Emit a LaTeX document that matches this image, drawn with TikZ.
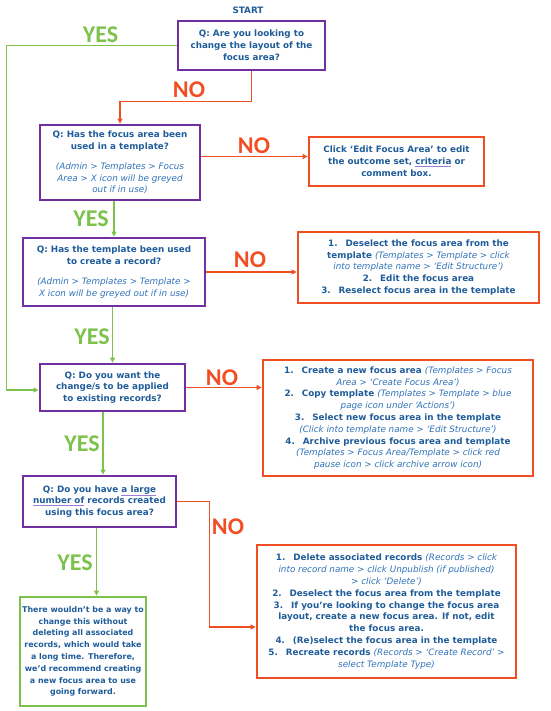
\documentclass[tikz,border=0pt]{standalone}
\usepackage{fontspec}
\setmainfont{DejaVu Sans}
\newfontfamily\labelfont{Carlito}
\usetikzlibrary{arrows.meta}
\definecolor{qblue}{HTML}{1F5C99}
\definecolor{iblue}{HTML}{2E72B8}
\definecolor{qpurple}{HTML}{7030A0}
\definecolor{nored}{HTML}{F04E23}
\definecolor{yesgreen}{HTML}{7CC24B}
\definecolor{spell}{HTML}{9B7FD4}
\newcommand{\hint}[1]{{\mdseries\itshape\color{iblue}#1}}
\newcommand{\spellmark}[1]{{\color{spell}$\underline{\hbox{\color{qblue}#1}}$}}
\newcommand{\nr}[1]{#1.\hspace{0.9em}}
\begin{document}
\begin{tikzpicture}[x=1pt,y=-1pt,
  boxtext/.style={align=center, inner sep=0pt, text=qblue,
    font=\bfseries\fontsize{8.8}{11.8}\selectfont},
  qbox/.style={boxtext, draw=qpurple, line width=2.8pt},
  abox/.style={boxtext, draw=nored, line width=2.8pt},
  ybox/.style={boxtext, draw=yesgreen, line width=2.8pt},
  yesline/.style={draw=yesgreen, line width=1.3pt, -{Triangle[length=5pt,width=5pt]}},
  noline/.style={draw=nored, line width=1.3pt, -{Triangle[length=5pt,width=5pt]}},
  yeslab/.style={text=yesgreen, font=\labelfont\bfseries\fontsize{24}{24}\selectfont},
  nolab/.style={text=nored, font=\labelfont\bfseries\fontsize{24}{24}\selectfont}]
\useasboundingbox (0,0) rectangle (550,711);

\node[boxtext] (start) at (248,10) {START};

\node[qbox, minimum width=147, minimum height=49] (q1) at (251.5,45.5)
  {Q: Are you looking to\\change the layout of the\\focus area?};
\node[qbox, minimum width=160, minimum height=75] (q2) at (120,162.5)
  {Q: Has the focus area been\\used in a template?\\[8pt]
   \hint{(Admin > Templates > Focus}\\\hint{Area > X icon will be greyed}\\\hint{out if in use)}};
\node[qbox, minimum width=182, minimum height=68] (q3) at (114,272)
  {Q: Has the template been used\\to create a record?\\[8pt]
   \hint{(Admin > Templates > Template >}\\\hint{X icon will be greyed out if in use)}};
\node[qbox, minimum width=145, minimum height=47] (q4) at (112.5,387.5)
  {Q: Do you want the\\change/s to be applied\\to existing records?};
\node[qbox, minimum width=153, minimum height=51] (q5) at (99.5,501.5)
  {Q: Do you have \spellmark{a large}\\\spellmark{number of} records created\\using this focus area?};

\node[abox, minimum width=175, minimum height=49] (a2) at (396.5,161.5)
  {Click ‘Edit Focus Area’ to edit\\the outcome set, \spellmark{criteria} or\\comment box.};
\node[abox, minimum width=241, minimum height=71] (a3) at (418.5,267.5)
  {\nr{1}Deselect the focus area from the\\
   template \hint{(Templates > Template > click}\\
   \hint{into template name > ‘Edit Structure’)}\\
   \nr{2}Edit the focus area\\
   \nr{3}Reselect focus area in the template};
\node[abox, minimum width=270, minimum height=116] (a4) at (398,418)
  {\nr{1}Create a new focus area \hint{(Templates > Focus}\\
   \hint{Area > ‘Create Focus Area’)}\\
   \nr{2}Copy template \hint{(Templates > Template > blue}\\
   \hint{page icon under ‘Actions’)}\\
   \nr{3}Select new focus area in the template\\
   \hint{(Click into template name > ‘Edit Structure’)}\\
   \nr{4}Archive previous focus area and template\\
   \hint{(Templates > Focus Area/Template > click red}\\
   \hint{pause icon > click archive arrow icon)}};
\node[abox, minimum width=259, minimum height=133] (a5) at (386.5,611.5)
  {\nr{1}Delete associated records \hint{(Records > click}\\
   \hint{into record name > click Unpublish (if published)}\\
   \hint{> click ‘Delete’)}\\
   \nr{2}Deselect the focus area from the template\\
   \nr{3}If you’re looking to change the focus area\\
   layout, create a new focus area. If not, edit\\
   the focus area.\\
   \nr{4}(Re)select the focus area in the template\\
   \nr{5}Recreate records \hint{(Records > ‘Create Record’ >}\\
   \hint{select Template Type)}};
\node[ybox, minimum width=126, minimum height=109,
  font=\bfseries\fontsize{7.9}{11.8}\selectfont] (a6) at (83,651.5)
  {There wouldn’t be a way to\\change this without\\deleting all associated\\records, which would take\\
   a long time. Therefore,\\we’d recommend creating\\a new focus area to use\\going forward.};

\draw[noline] (q1.south) -- ++(0,30) -| (q2.north);
\draw[yesline] (q1.west) -- ++(-170,0) |- ([yshift=-2.5]q4.west);
\draw[noline] ([yshift=6]q2.east) -- ([yshift=6]q2.east -| a2.west);
\draw[yesline] (q2.south -| q3.north) -- (q3.north);
\draw[noline] (q3.east) -- (q3.east -| a3.west);
\draw[yesline] (q3.south -| q4.north) -- (q4.north);
\draw[noline] (q4.east) -- (q4.east -| a4.west);
\draw[yesline] ([xshift=3.5]q5.north |- q4.south) -- ([xshift=3.5]q5.north);
\draw[noline] (q5.east) -- ++(32,0) |- ([yshift=-15.5]a5.west);
\draw[yesline] ([xshift=-3]q5.south) -- ([xshift=-3]q5.south |- a6.north);

\node[yeslab] (yes1) at (100.5,35) {YES};
\node[nolab] (no1) at (189,90) {NO};
\node[nolab] (no2) at (254,146) {NO};
\node[yeslab] (yes2) at (91,219) {YES};
\node[nolab] (no3) at (250,260) {NO};
\node[yeslab] (yes3) at (92,337) {YES};
\node[nolab] (no4) at (222,378) {NO};
\node[yeslab] (yes4) at (82,444) {YES};
\node[nolab] (no5) at (228,527) {NO};
\node[yeslab] (yes5) at (75,563) {YES};
\end{tikzpicture}
\end{document}
